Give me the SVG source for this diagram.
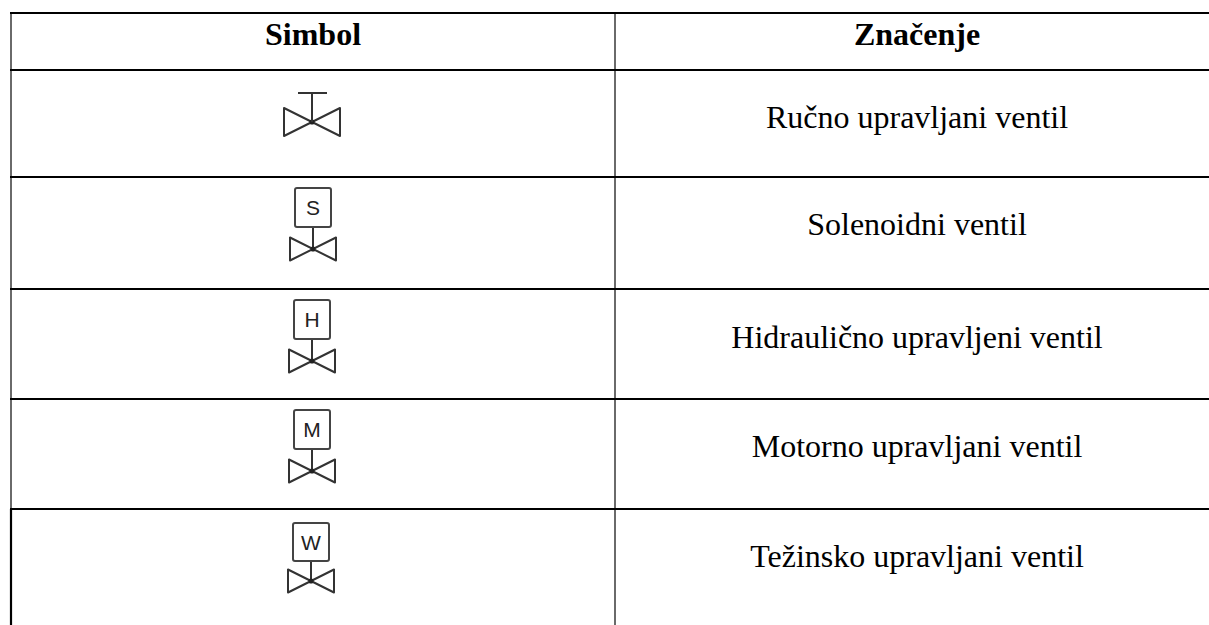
<svg xmlns="http://www.w3.org/2000/svg" width="1209" height="625" viewBox="0 0 1209 625">
<style>
.hl{stroke:#000;stroke-width:2.2;fill:none}
.vl{stroke:#6a6a6a;stroke-width:2;fill:none}
.sym{stroke:#333;stroke-width:2;fill:none;stroke-linejoin:round}
.box{stroke:#444;stroke-width:2;fill:#fff}
.t{font-family:"Liberation Serif","Times New Roman",serif;font-size:32px;fill:#000;text-anchor:middle}
.th{font-family:"Liberation Serif","Times New Roman",serif;font-size:32px;font-weight:bold;fill:#000;text-anchor:middle}
.lt{font-family:"Liberation Sans",Arial,sans-serif;font-size:21px;fill:#222;text-anchor:middle}
</style>
<defs>
<g id="valve">
<path class="sym" d="M-23,-11.5 L-23,11.5 L23,-11.5 L23,11.5 Z"/>
<circle r="2.6" fill="#222"/>
</g>
</defs>
<rect width="1209" height="625" fill="#fff"/>
<g id="grid">
<line class="vl" x1="11" y1="13" x2="11" y2="509"/>
<line x1="11" y1="509" x2="11" y2="625" stroke="#000" stroke-width="2.2"/>
<line class="vl" x1="615" y1="13" x2="615" y2="625"/>
<line class="hl" x1="10" y1="13" x2="1209" y2="13"/>
<line class="hl" x1="10" y1="70" x2="1209" y2="70"/>
<line class="hl" x1="10" y1="177" x2="1209" y2="177"/>
<line class="hl" x1="10" y1="289" x2="1209" y2="289"/>
<line class="hl" x1="10" y1="399" x2="1209" y2="399"/>
<line class="hl" x1="10" y1="509" x2="1209" y2="509"/>
</g>
<g id="header">
<text class="th" x="313" y="45">Simbol</text>
<text class="th" x="917" y="45">Značenje</text>
</g>
<g id="row1">
<path class="sym" d="M-28,-14 L-28,14 L28,-14 L28,14 Z" transform="translate(312,122)"/>
<circle cx="312" cy="122" r="2.6" fill="#222"/>
<line class="sym" x1="312" y1="93" x2="312" y2="122"/>
<line class="sym" x1="298" y1="93" x2="327" y2="93"/>
<text class="t" x="917" y="128">Ručno upravljani ventil</text>
</g>
<g id="row2">
<line class="sym" x1="313" y1="227" x2="313" y2="249"/>
<rect class="box" x="295" y="188" width="36" height="39" rx="2"/>
<text class="lt" x="313" y="215">S</text>
<use href="#valve" x="313" y="249"/>
<text class="t" x="917" y="235">Solenoidni ventil</text>
</g>
<g id="row3">
<line class="sym" x1="312" y1="339" x2="312" y2="361"/>
<rect class="box" x="294" y="300" width="36" height="39" rx="2"/>
<text class="lt" x="312" y="327">H</text>
<use href="#valve" x="312" y="361"/>
<text class="t" x="917" y="348">Hidraulično upravljeni ventil</text>
</g>
<g id="row4">
<line class="sym" x1="312" y1="449" x2="312" y2="471"/>
<rect class="box" x="294" y="410" width="36" height="39" rx="2"/>
<text class="lt" x="312" y="437">M</text>
<use href="#valve" x="312" y="471"/>
<text class="t" x="917" y="457">Motorno upravljani ventil</text>
</g>
<g id="row5">
<line class="sym" x1="311" y1="561" x2="311" y2="581"/>
<rect class="box" x="293" y="523" width="36" height="38" rx="2"/>
<text class="lt" x="311" y="550">W</text>
<use href="#valve" x="311" y="581"/>
<text class="t" x="917" y="567">Težinsko upravljani ventil</text>
</g>
</svg>
